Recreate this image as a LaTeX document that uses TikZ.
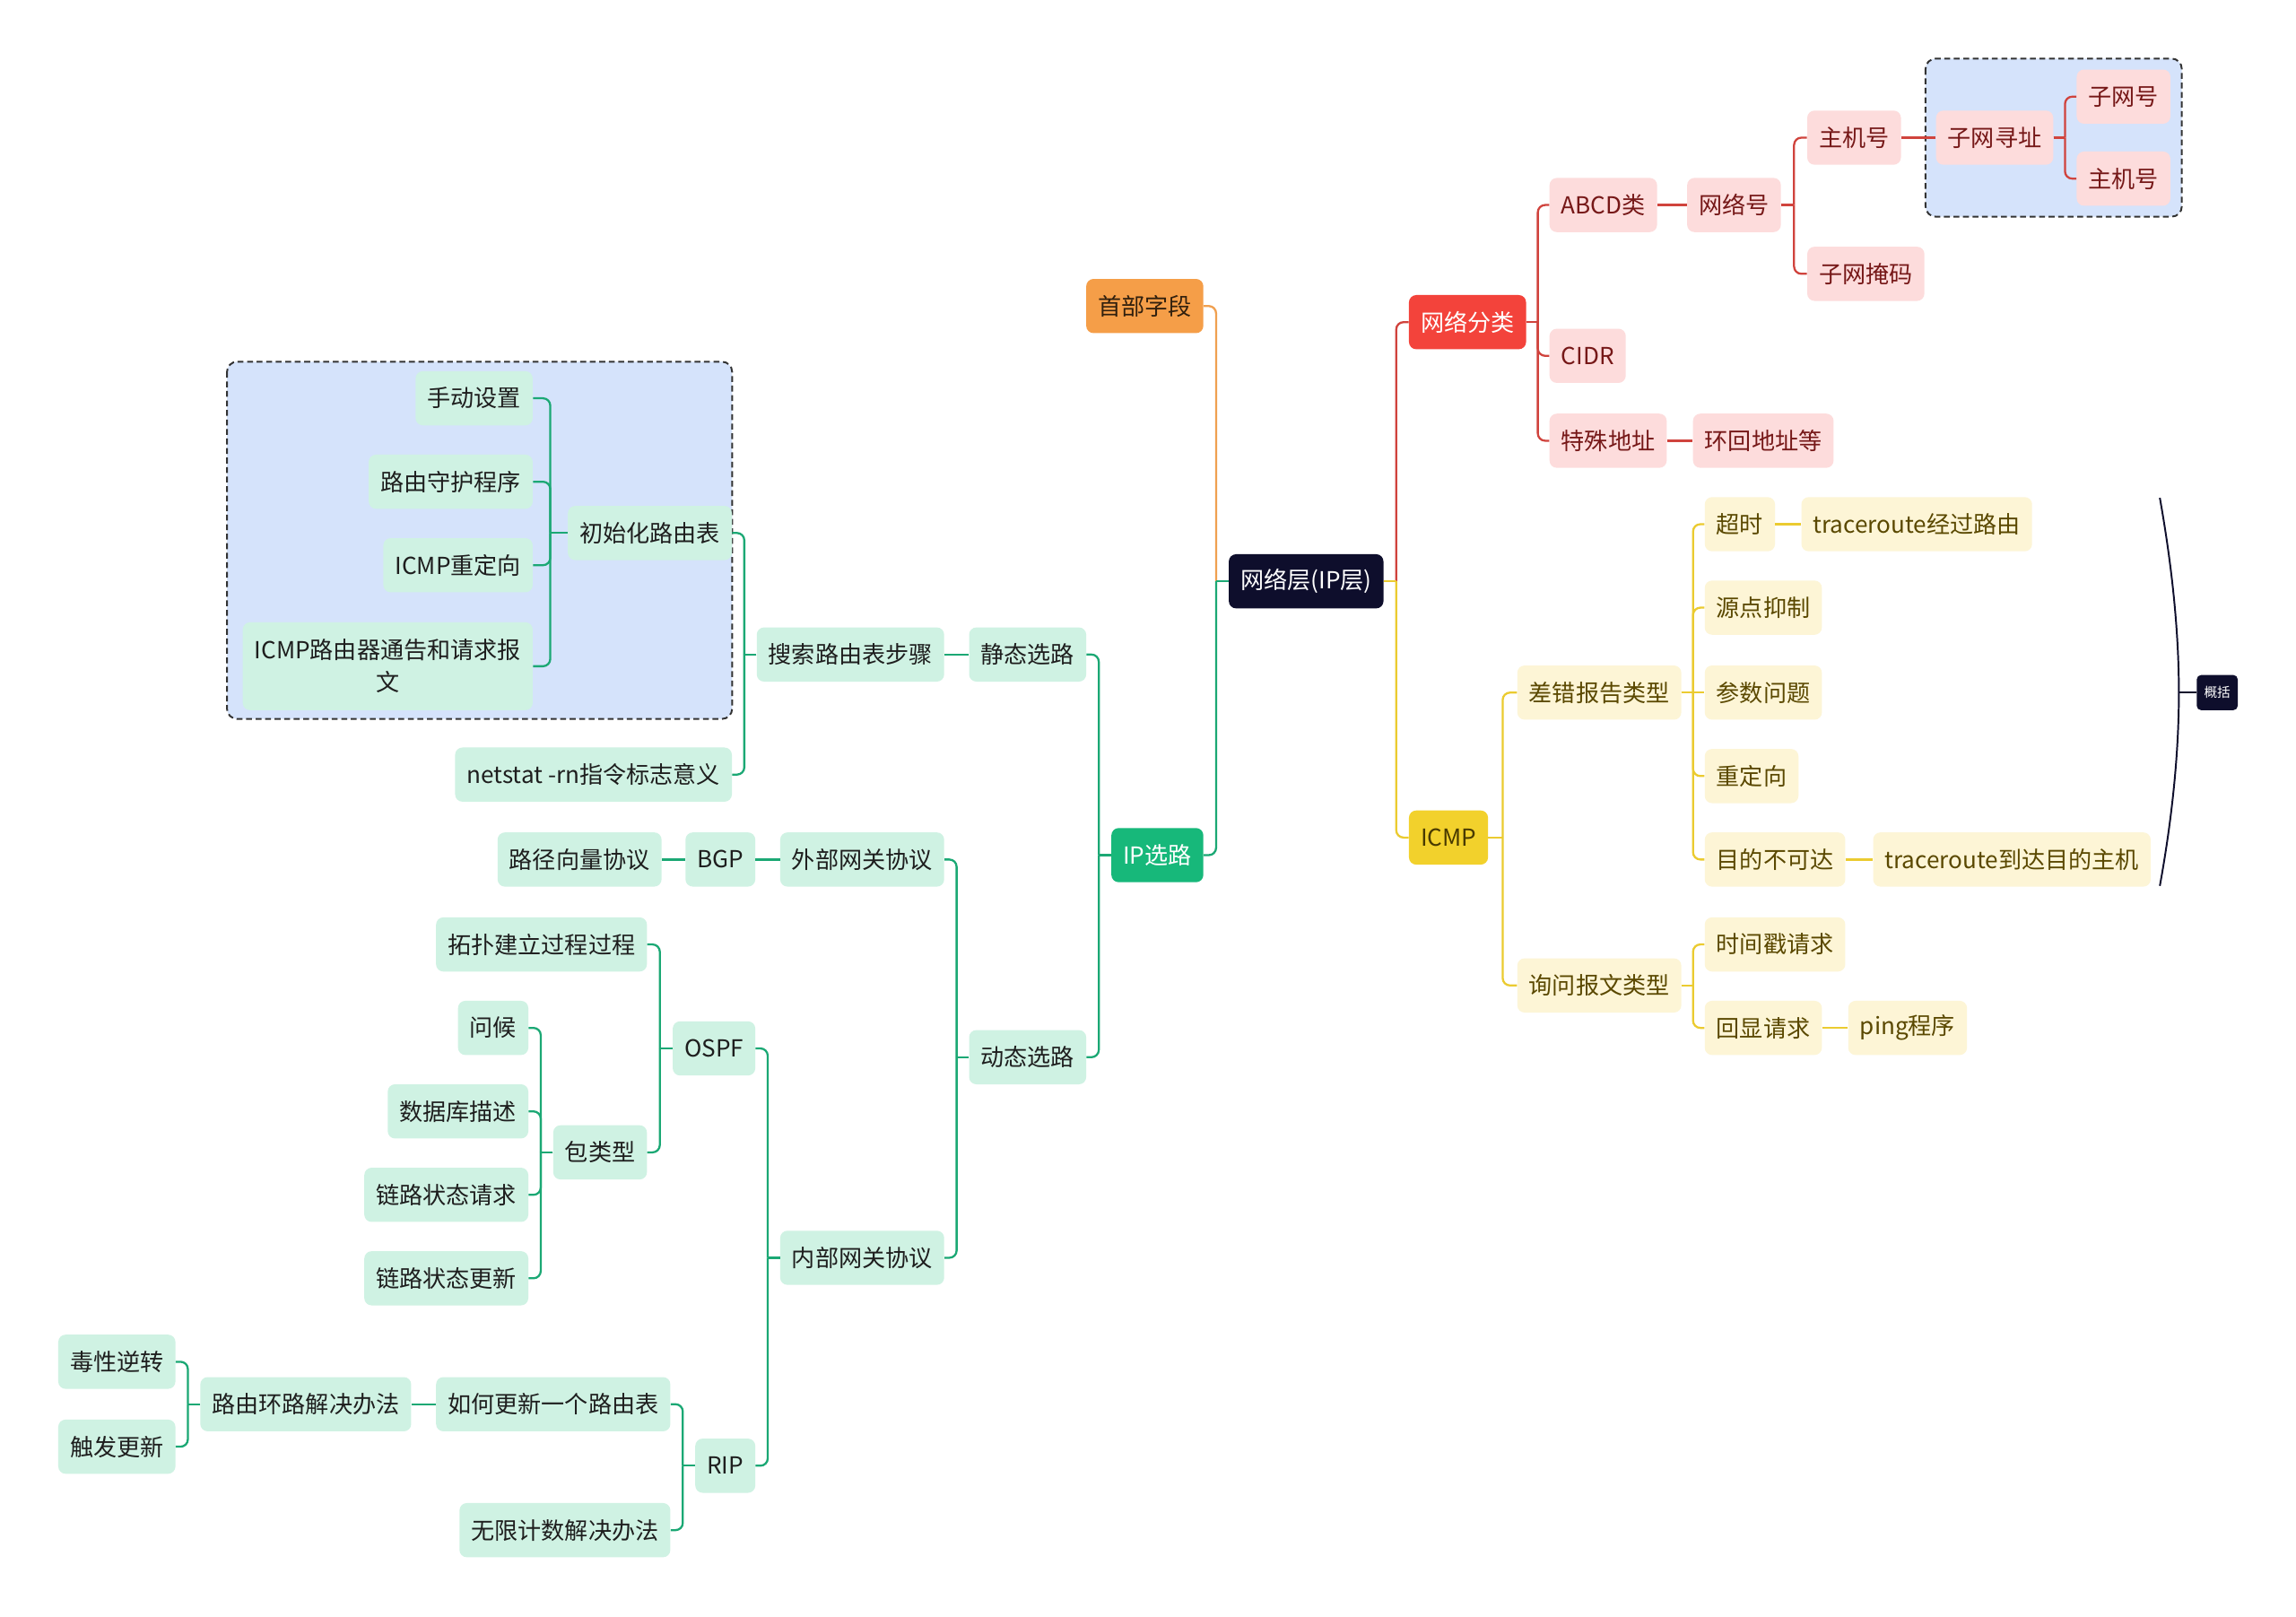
\documentclass[tikz,border=0pt]{standalone}
\usepackage{fontspec}
\setmainfont{Noto Sans CJK SC}
\usetikzlibrary{calc}
\definecolor{navy}{HTML}{0E0E2C}
\definecolor{orangeM}{HTML}{F59E48}
\definecolor{redM}{HTML}{F3433B}
\definecolor{greenM}{HTML}{17B87A}
\definecolor{yellowM}{HTML}{F2D12C}
\definecolor{pinkF}{HTML}{FDDCDC}
\definecolor{pinkT}{HTML}{761818}
\definecolor{yelF}{HTML}{FDF5D6}
\definecolor{yelT}{HTML}{5A4800}
\definecolor{mintF}{HTML}{CFF2E3}
\definecolor{mintT}{HTML}{1E1E1E}
\definecolor{boxF}{HTML}{D5E3FB}
\definecolor{lnR}{HTML}{D0433D}
\definecolor{lnY}{HTML}{EBCB30}
\definecolor{lnG}{HTML}{1BA874}
\definecolor{lnO}{HTML}{F0A050}
\tikzset{
  base/.style={rounded corners=5pt, inner xsep=8pt, inner ysep=0pt, minimum height=37pt, font=\fontsize{16}{22}\selectfont},
  pinkbox/.style={base, fill=pinkF, text=pinkT, anchor=west},
  yelbox/.style={base, fill=yelF, text=yelT, anchor=west},
  mintL/.style={base, fill=mintF, text=mintT, anchor=east},
  rootbox/.style={base, fill=navy, text=white},
  ln/.style={line width=1.4pt},
  dbox/.style={draw=black!80, dashed, dash pattern=on 4pt off 2.5pt, line width=1.2pt, fill=boxF, rounded corners=7pt}
}
\newcommand\elbR[3]{%
  \draw[ln,#1] let \p1=(#2.east), \p2=(#3.west) in (\p1) -- ({(\x1+\x2)/2},\y1);
  \draw[ln,#1,rounded corners=5pt] let \p1=(#2.east), \p2=(#3.west) in ({(\x1+\x2)/2},\y1) |- (\p2);}
\newcommand\elbL[3]{%
  \draw[ln,#1] let \p1=(#2.west), \p2=(#3.east) in (\p1) -- ({(\x1+\x2)/2},\y1);
  \draw[ln,#1,rounded corners=5pt] let \p1=(#2.west), \p2=(#3.east) in ({(\x1+\x2)/2},\y1) |- (\p2);}
\newcommand\strR[3]{\draw[ln,#1] (#2.east) -- (#3.west);}
\newcommand\strL[3]{\draw[ln,#1] (#2.west) -- (#3.east);}
\begin{document}
\begin{tikzpicture}[x=1pt,y=-1pt]
\useasboundingbox[fill=white] (0,0) rectangle (1568,1104);
% dashed group boxes
\draw[dbox] (155,247) rectangle (500,491);
\draw[dbox] (1315,40) rectangle (1490,148);
% root
\node[rootbox] (root) at (892,397) {网络层(IP层)};
% right main
\node[base, fill=redM, text=white, anchor=west] (nfl) at (962,220) {网络分类};
\node[base, fill=yellowM, text=yelT!80!black, anchor=west] (icmp) at (962,572) {ICMP};
% network classes
\node[pinkbox] (abcd) at (1058,140) {ABCD类};
\node[pinkbox] (cidr) at (1058,243) {CIDR};
\node[pinkbox] (tsdz) at (1058,301) {特殊地址};
\node[pinkbox] (wlh) at (1152,140) {网络号};
\node[pinkbox] (hhdz) at (1156,301) {环回地址等};
\node[pinkbox] (zjh1) at (1234,94) {主机号};
\node[pinkbox] (zwym) at (1234,187) {子网掩码};
\node[pinkbox] (zwxz) at (1322,94) {子网寻址};
\node[pinkbox] (zwh) at (1418,66) {子网号};
\node[pinkbox] (zjh2) at (1418,122) {主机号};
% ICMP
\node[yelbox] (cc) at (1036,473) {差错报告类型};
\node[yelbox] (xw) at (1036,673) {询问报文类型};
\node[yelbox] (cs) at (1164,358) {超时};
\node[yelbox] (yd) at (1164,415) {源点抑制};
\node[yelbox] (csw) at (1164,473) {参数问题};
\node[yelbox] (cdx) at (1164,530) {重定向};
\node[yelbox] (mdb) at (1164,587) {目的不可达};
\node[yelbox] (tr1) at (1230,358) {traceroute经过路由};
\node[yelbox] (tr2) at (1279,587) {traceroute到达目的主机};
\node[yelbox] (sjc) at (1164,645) {时间戳请求};
\node[yelbox] (hx) at (1164,702) {回显请求};
\node[yelbox] (ping) at (1262,702) {ping程序};
% summary
\node[rounded corners=3pt, fill=navy, text=white, font=\fontsize{9}{10}\selectfont, minimum width=28pt, minimum height=24pt, inner sep=2pt, anchor=west] (gk) at (1500,473) {概括};
\coordinate (bt) at (1475,340);
\coordinate (bb) at (1475,605);
\coordinate (bm) at (1488,473);
\draw[line width=1.2pt, navy] (bt) .. controls (1483,385) and (1488,430) .. (bm) .. controls (1488,516) and (1483,561) .. (bb);
\draw[line width=1.2pt, navy] (bm) -- (gk.west);
% left main
\node[base, fill=orangeM, text=black!80!orangeM, anchor=east] (sbzd) at (822,209) {首部字段};
\node[base, fill=greenM, text=white, anchor=east] (ipxl) at (822,584) {IP选路};
\node[mintL] (jtxl) at (742,447) {静态选路};
\node[mintL] (dtxl) at (742,722) {动态选路};
\node[mintL] (ssbz) at (645,447) {搜索路由表步骤};
\node[mintL] (csh) at (500,364) {初始化路由表};
\node[mintL] (netstat) at (500,529) {netstat -rn指令标志意义};
\node[mintL] (sdsz) at (364,272) {手动设置};
\node[mintL] (lysh) at (364,329) {路由守护程序};
\node[mintL] (icmpcdx) at (364,386) {ICMP重定向};
\node[mintL, minimum height=60pt, align=center] (icmptg) at (364,455) {ICMP路由器通告和请求报\\文};
\node[mintL] (wbwg) at (645,587) {外部网关协议};
\node[mintL] (nbwg) at (645,859) {内部网关协议};
\node[mintL] (bgp) at (516,587) {BGP};
\node[mintL] (ljxl) at (452,587) {路径向量协议};
\node[mintL] (ospf) at (516,716) {OSPF};
\node[mintL] (rip) at (516,1001) {RIP};
\node[mintL] (tp) at (442,645) {拓扑建立过程过程};
\node[mintL] (blx) at (442,787) {包类型};
\node[mintL] (wh) at (361,702) {问候};
\node[mintL] (sjk) at (361,759) {数据库描述};
\node[mintL] (lq) at (361,816) {链路状态请求};
\node[mintL] (lg) at (361,873) {链路状态更新};
\node[mintL] (rhgx) at (458,959) {如何更新一个路由表};
\node[mintL] (wxjs) at (458,1045) {无限计数解决办法};
\node[mintL] (lyhl) at (281,959) {路由环路解决办法};
\node[mintL] (dxnz) at (120,930) {毒性逆转};
\node[mintL] (cfgx) at (120,988) {触发更新};
% connectors right
\elbR{lnR}{root}{nfl}
\elbR{lnY}{root}{icmp}
\elbR{lnR}{nfl}{abcd}
\elbR{lnR}{nfl}{cidr}
\elbR{lnR}{nfl}{tsdz}
\strR{lnR}{abcd}{wlh}
\strR{lnR}{tsdz}{hhdz}
\elbR{lnR}{wlh}{zjh1}
\elbR{lnR}{wlh}{zwym}
\strR{lnR}{zjh1}{zwxz}
\elbR{lnR}{zwxz}{zwh}
\elbR{lnR}{zwxz}{zjh2}
\elbR{lnY}{icmp}{cc}
\elbR{lnY}{icmp}{xw}
\elbR{lnY}{cc}{cs}
\elbR{lnY}{cc}{yd}
\strR{lnY}{cc}{csw}
\elbR{lnY}{cc}{cdx}
\elbR{lnY}{cc}{mdb}
\strR{lnY}{cs}{tr1}
\strR{lnY}{mdb}{tr2}
\elbR{lnY}{xw}{sjc}
\elbR{lnY}{xw}{hx}
\strR{lnY}{hx}{ping}
% connectors left
\elbL{lnO}{root}{sbzd}
\elbL{lnG}{root}{ipxl}
\elbL{lnG}{ipxl}{jtxl}
\elbL{lnG}{ipxl}{dtxl}
\strL{lnG}{jtxl}{ssbz}
\elbL{lnG}{ssbz}{csh}
\elbL{lnG}{ssbz}{netstat}
\elbL{lnG}{csh}{sdsz}
\elbL{lnG}{csh}{lysh}
\elbL{lnG}{csh}{icmpcdx}
\elbL{lnG}{csh}{icmptg}
\elbL{lnG}{dtxl}{wbwg}
\elbL{lnG}{dtxl}{nbwg}
\strL{lnG}{wbwg}{bgp}
\strL{lnG}{bgp}{ljxl}
\elbL{lnG}{nbwg}{ospf}
\elbL{lnG}{nbwg}{rip}
\elbL{lnG}{ospf}{tp}
\elbL{lnG}{ospf}{blx}
\elbL{lnG}{blx}{wh}
\elbL{lnG}{blx}{sjk}
\elbL{lnG}{blx}{lq}
\elbL{lnG}{blx}{lg}
\elbL{lnG}{rip}{rhgx}
\elbL{lnG}{rip}{wxjs}
\strL{lnG}{rhgx}{lyhl}
\elbL{lnG}{lyhl}{dxnz}
\elbL{lnG}{lyhl}{cfgx}
\end{tikzpicture}
\end{document}
